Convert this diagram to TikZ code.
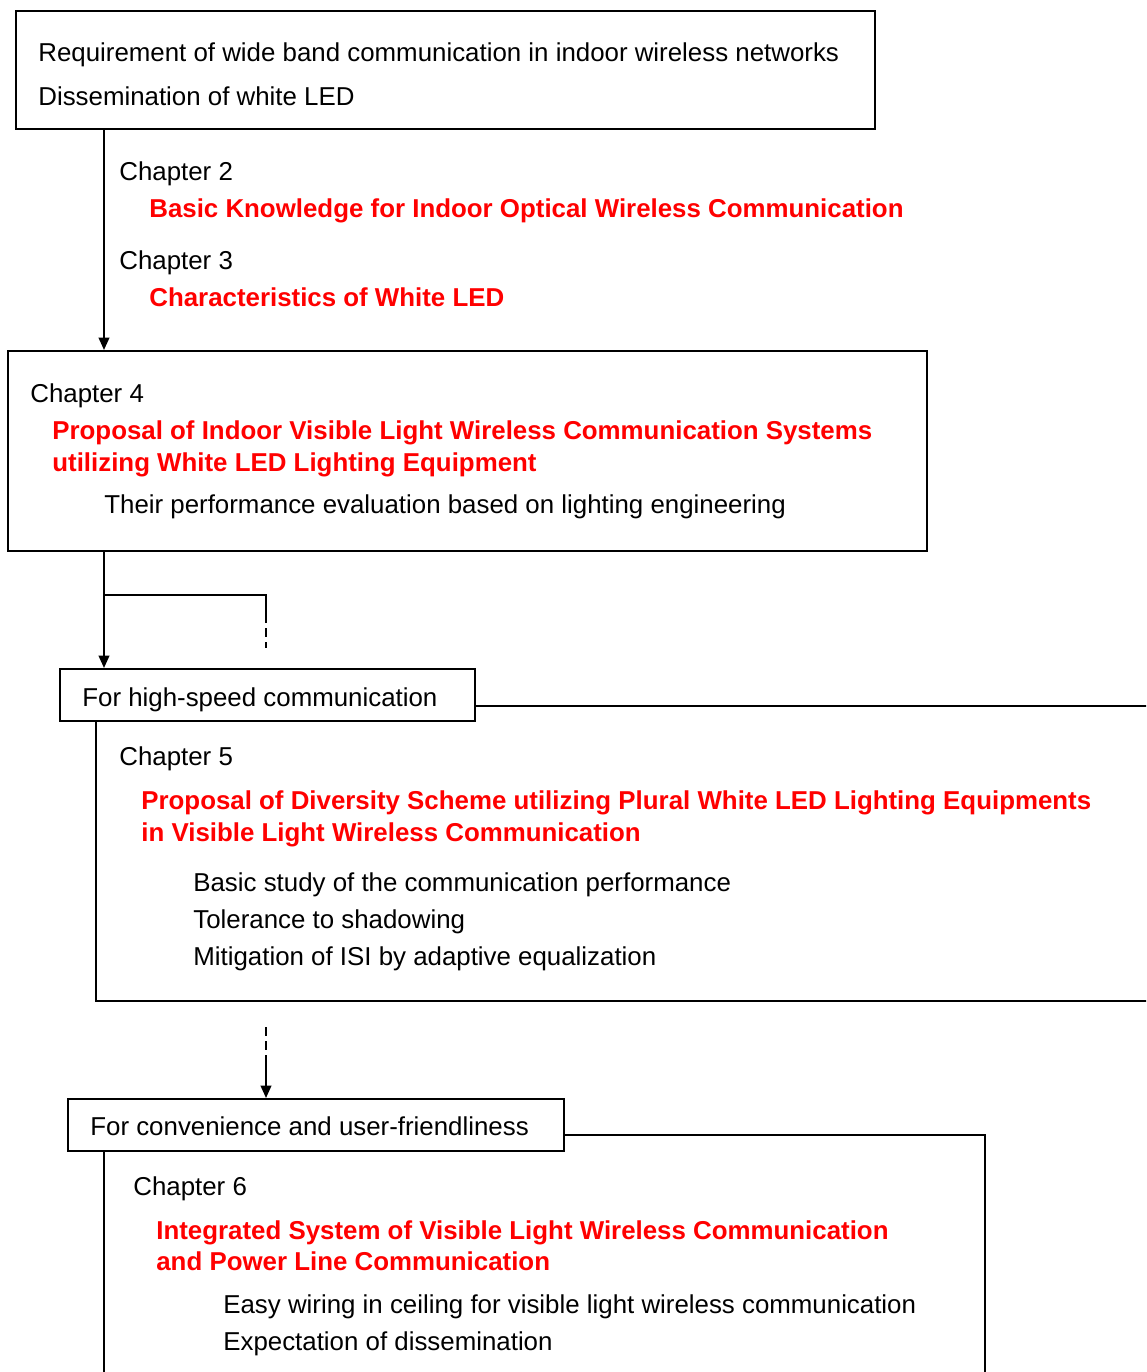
\documentclass[tikz,border=0pt]{standalone}
\usepackage{fontspec}
\setmainfont{Liberation Sans}
\usetikzlibrary{arrows.meta}
\definecolor{tred}{RGB}{255,0,0}
\tikzset{
  box/.style={draw, line width=1.1pt, inner sep=0pt, anchor=north west},
  txt/.style={anchor=base west, inner sep=0pt, font=\fontsize{14.72}{18}\selectfont},
  rtxt/.style={txt, text=tred, font=\fontsize{14.72}{18}\selectfont\bfseries},
  conn/.style={line width=1.1pt, -{Triangle[length=7pt,width=6pt]}},
  plain/.style={line width=1.1pt},
  dsh/.style={line width=1.1pt, dash pattern=on 5pt off 3pt},
}
\begin{document}
\begin{tikzpicture}[x=0.02cm,y=-0.02cm]
\useasboundingbox (0,0) rectangle (1146,1372);
\clip (0,0) rectangle (1146,1372);
% box 1
\node[box, minimum width=17.18cm, minimum height=2.36cm] (b1) at (15,10) {};
\node[txt] (t1a) at (38,62) {Requirement of wide band communication in indoor wireless networks};
\node[txt] (t1b) at (38,106) {Dissemination of white LED};
\node[txt] (c2) at (119,180) {Chapter 2};
\node[rtxt] (c2r) at (149,217) {Basic Knowledge for Indoor Optical Wireless Communication};
\node[txt] (c3) at (119,269) {Chapter 3};
\node[rtxt] (c3r) at (149,306) {Characteristics of White LED};
% box 2
\node[box, minimum width=18.38cm, minimum height=4cm] (b2) at (7,350) {};
\draw[conn] (b1.south west -| 104,0) -- (b2.north west -| 104,0);
\node[txt] (c4) at (30,402) {Chapter 4};
\node[rtxt] (c4r1) at (52,439) {Proposal of Indoor Visible Light Wireless Communication Systems};
\node[rtxt] (c4r2) at (52,471) {utilizing White LED Lighting Equipment};
\node[txt] (c4b) at (104,513) {Their performance evaluation based on lighting engineering};
% box 3
\node[box, minimum width=8.3cm, minimum height=1.04cm] (b3) at (59,668) {};
\node[txt] (t3) at (82,706) {For high-speed communication};
\draw[conn] (b2.south west -| 104,0) -- (b3.north west -| 104,0);
\coordinate (br1) at (104,595);
\coordinate (br2) at (266,595);
\coordinate (br3) at (266,614);
\coordinate (br4) at (266,648);
\draw[plain] (br1) -- (br2) -- (br3);
\draw[dsh] (br3) -- (br4);
% chapter 5 open box
\draw[plain] (b3.east |- 0,706) -- (1160,706);
\draw[plain] (96,720) -- (96,1001) -- (1160,1001);
\node[txt] (c5) at (119,765) {Chapter 5};
\node[rtxt] (c5r1) at (141,809) {Proposal of Diversity Scheme utilizing Plural White LED Lighting Equipments};
\node[rtxt] (c5r2) at (141,841) {in Visible Light Wireless Communication};
\node[txt] (c5a) at (193,891) {Basic study of the communication performance};
\node[txt] (c5b) at (193,928) {Tolerance to shadowing};
\node[txt] (c5c) at (193,965) {Mitigation of ISI by adaptive equalization};
% box 4
\node[box, minimum width=9.92cm, minimum height=1.04cm] (b4) at (67,1098) {};
\node[txt] (t4) at (90,1135) {For convenience and user-friendliness};
\coordinate (d1) at (266,1027);
\coordinate (d2) at (266,1062);
\draw[dsh] (d1) -- (d2);
\draw[conn] (d2) -- (b4.north west -| 266,0);
% chapter 6 open box
\draw[plain] (b4.east |- 0,1135) -- (985,1135) -- (985,1380);
\draw[plain] (104,1150) -- (104,1380);
\node[txt] (c6) at (133,1195) {Chapter 6};
\node[rtxt] (c6r1) at (156,1239) {Integrated System of Visible Light Wireless Communication};
\node[rtxt] (c6r2) at (156,1270) {and Power Line Communication};
\node[txt] (c6a) at (223,1313) {Easy wiring in ceiling for visible light wireless communication};
\node[txt] (c6b) at (223,1350) {Expectation of dissemination};
\end{tikzpicture}
\end{document}
